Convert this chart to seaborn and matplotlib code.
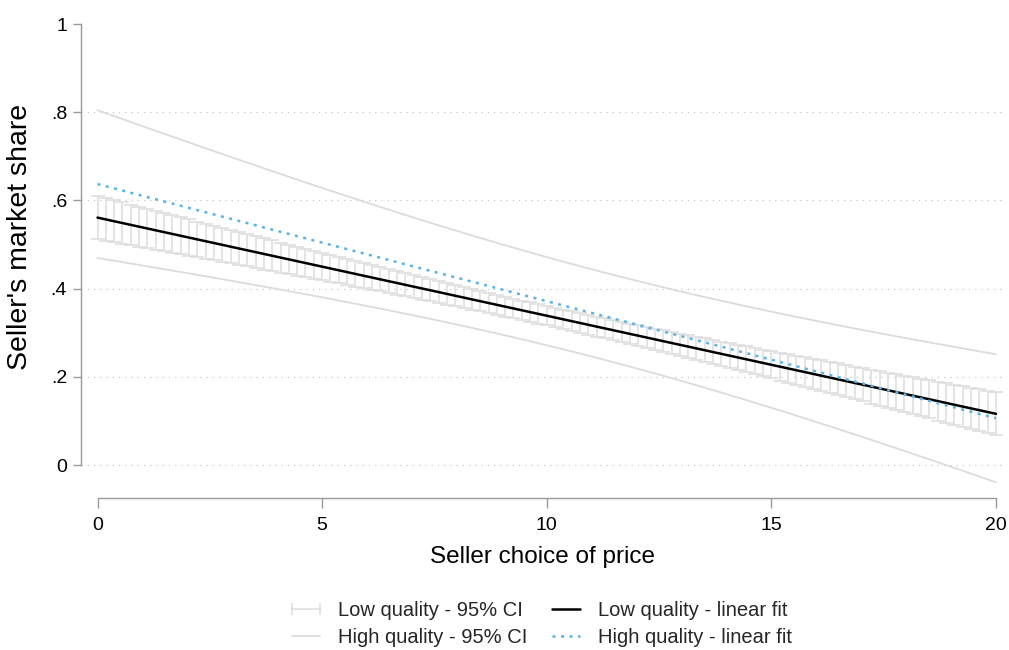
import numpy as np
import pandas as pd
import seaborn as sns
import matplotlib.pyplot as plt
from matplotlib.lines import Line2D
from matplotlib.legend_handler import HandlerLine2D

# Price range covered by the fitted lines
price_range = [0, 20]
n_grid = 109

# Linear fits: predicted market share at price 0 and price 20
low_fit_ends = [0.561, 0.116]
high_fit_ends = [0.637, 0.106]

# 95% CI half-width, h(x) = sqrt(var0 + var_slope * (x - x_centre)^2)
low_ci_var0, low_ci_var_slope, low_ci_centre = 0.000484, 0.0000192, 10.0
high_ci_var0, high_ci_var_slope, high_ci_centre = 0.00978, 0.000146, 11.2

y_ticks = [0, 0.2, 0.4, 0.6, 0.8, 1.0]
y_tick_labels = ["0", ".2", ".4", ".6", ".8", "1"]
x_ticks = [0, 5, 10, 15, 20]

CI_GREY = "#dcdcdc"
BLUE = "#5ab4e6"

sns.set_theme(style="white")
plt.rcParams["font.family"] = ["Liberation Sans", "DejaVu Sans"]

x = np.linspace(price_range[0], price_range[1], n_grid)


def fit_line(ends):
    slope = (ends[1] - ends[0]) / (price_range[1] - price_range[0])
    return ends[0] + slope * (x - price_range[0])


def half_width(var0, var_slope, centre):
    return np.sqrt(var0 + var_slope * (x - centre) ** 2)


low_fit = fit_line(low_fit_ends)
high_fit = fit_line(high_fit_ends)
low_hw = half_width(low_ci_var0, low_ci_var_slope, low_ci_centre)
high_hw = half_width(high_ci_var0, high_ci_var_slope, high_ci_centre)

df = pd.DataFrame({
    "price": x,
    "low_fit": low_fit,
    "high_fit": high_fit,
    "high_lo": high_fit - high_hw,
    "high_hi": high_fit + high_hw,
})

fig = plt.figure(figsize=(10.09, 6.5), dpi=100)
W, H = 1009, 650
left_px, right_px, top_px, bottom_px = 81, 1005, 22, 498
ax = fig.add_axes([left_px / W, 1 - bottom_px / H,
                   (right_px - left_px) / W, (bottom_px - top_px) / H])

# data limits: price 0 -> px 97.5, price 20 -> px 996; share 0 -> px 465, 1 -> px 24
px_per_x = (996 - 97.5) / 20
px_per_y = 465 - 24
ax.set_xlim(-(97.5 - left_px) / px_per_x, 20 + (right_px - 996) / px_per_x)
ax.set_ylim(-(bottom_px - 465) / px_per_y, 1 + (24 - top_px) / px_per_y)

# dotted horizontal grid
for yv in [0, 0.2, 0.4, 0.6, 0.8]:
    ax.axhline(yv, color="#c8c8c8", lw=0.9, ls=(0, (1, 4)), zorder=0)

# High quality CI bounds
sns.lineplot(data=df, x="price", y="high_hi", ax=ax, color=CI_GREY, lw=1.3, zorder=1)
sns.lineplot(data=df, x="price", y="high_lo", ax=ax, color=CI_GREY, lw=1.3, zorder=1)

# Low quality CI as capped ranges
ax.errorbar(x, low_fit, yerr=low_hw, fmt="none", ecolor=CI_GREY,
            elinewidth=1.1, capsize=4.8, capthick=1.1, zorder=2)

# Fitted lines
sns.lineplot(data=df, x="price", y="low_fit", ax=ax, color="black", lw=1.8, zorder=4)
sns.lineplot(data=df, x="price", y="high_fit", ax=ax, color=BLUE, lw=1.8,
             ls=(0, (1.2, 2.2)), zorder=5)

# Axes styling
for s in ["top", "right"]:
    ax.spines[s].set_visible(False)
for s in ["left", "bottom"]:
    ax.spines[s].set_color("#9a9a9a")
    ax.spines[s].set_linewidth(1.0)
ax.spines["left"].set_bounds(0, 1)
ax.spines["bottom"].set_bounds(0, 20)

ax.set_yticks(y_ticks)
ax.set_yticklabels(y_tick_labels)
ax.set_xticks(x_ticks)
ax.tick_params(axis="y", which="both", left=True, length=6, width=1.0,
               color="#9a9a9a", pad=4, labelsize=14, labelcolor="black")
ax.tick_params(axis="x", which="both", bottom=True, length=7, width=1.0,
               color="#9a9a9a", pad=7, labelsize=14, labelcolor="black")

ax.set_xlabel("Seller choice of price", fontsize=17.5, color="black", labelpad=8)
ax.set_ylabel("Seller's market share", fontsize=20.5, color="black")
ax.yaxis.set_label_coords(-0.052, 0.548)

# Legend below the plot
h_ci_low = Line2D([], [], color=CI_GREY, lw=1.1, marker="|", markersize=8,
                  markeredgewidth=1.1)
h_ci_high = Line2D([], [], color=CI_GREY, lw=1.3)
h_fit_low = Line2D([], [], color="black", lw=1.8)
h_fit_high = Line2D([], [], color=BLUE, lw=1.8, ls=(0, (1.2, 2.2)))
fig.legend([h_ci_low, h_ci_high, h_fit_low, h_fit_high],
           ["Low quality - 95% CI", "High quality - 95% CI",
            "Low quality - linear fit", "High quality - linear fit"],
           ncol=2, loc="center", bbox_to_anchor=(542 / W, 1 - 624 / H),
           frameon=False, fontsize=14.5, handlelength=1.4, handletextpad=0.9,
           columnspacing=1.2, labelspacing=0.42,
           handler_map={h_ci_low: HandlerLine2D(numpoints=2, marker_pad=0)})

fig.savefig("out.png", dpi=100, facecolor="white")
